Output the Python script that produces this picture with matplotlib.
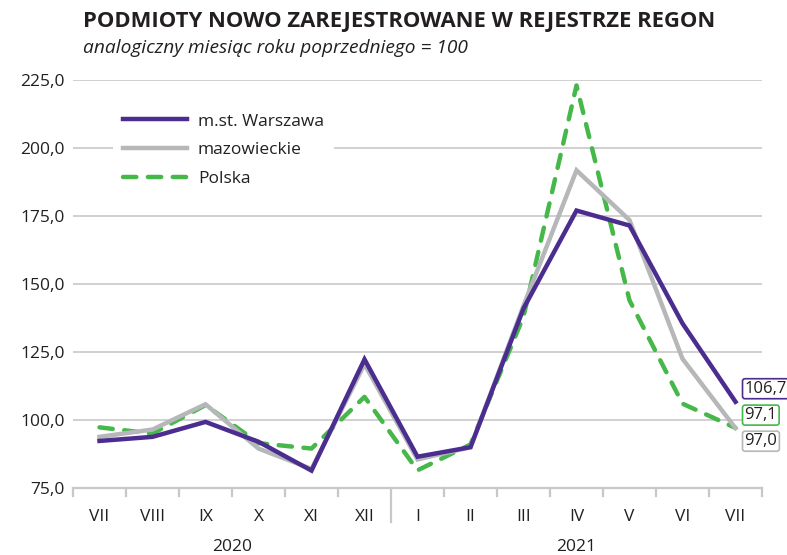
import matplotlib
matplotlib.use("Agg")
import matplotlib.pyplot as plt

plt.rcParams['font.family'] = ['Open Sans', 'DejaVu Sans']

months = ["VII", "VIII", "IX", "X", "XI", "XII", "I", "II", "III", "IV", "V", "VI", "VII"]
years = ["2020", "2021"]
year_groups = [(0, 5), (6, 12)]

warszawa = [92.3, 93.8, 99.3, 92.0, 81.4, 122.3, 86.5, 90.0, 141.0, 177.0, 171.5, 135.5, 106.7]
mazowieckie = [93.8, 96.5, 105.8, 89.5, 82.0, 120.5, 85.5, 90.0, 142.0, 191.8, 173.5, 122.5, 97.0]
polska = [97.3, 95.0, 105.5, 91.5, 89.5, 108.5, 81.5, 91.0, 138.0, 223.0, 144.0, 106.0, 97.1]

series_names = ["m.st. Warszawa", "mazowieckie", "Polska"]
end_labels = ["106,7", "97,1", "97,0"]
yticks = [75, 100, 125, 150, 175, 200, 225]

c_purple = "#4B2C8F"
c_gray = "#B5B7B9"
c_green = "#46B749"
grid_c = "#C8C8CA"
txt_c = "#231F20"
fs = 12.5

fig = plt.figure(figsize=(7.87, 5.55), dpi=100)
ax = fig.add_axes([73/787, 1-488/555, 689/787, 408/555])

x = list(range(len(months)))
lw = 3.2
l1, = ax.plot(x, warszawa, color=c_purple, lw=lw, zorder=5, solid_joinstyle='miter')
l2, = ax.plot(x, mazowieckie, color=c_gray, lw=lw, zorder=4, solid_joinstyle='miter')
l3, = ax.plot(x, polska, color=c_green, lw=lw, zorder=3, dashes=(3.0, 2.6), dash_capstyle='round')

ax.set_xlim(-0.5, 12.5)
ax.set_ylim(75, 225)
ax.set_yticks(yticks)
ax.set_yticklabels([f"{v:.1f}".replace(".", ",") for v in yticks], fontsize=fs, color=txt_c)
for v in yticks[1:]:
    ax.axhline(v, color=grid_c, lw=1.2, zorder=1)
ax.tick_params(axis='y', length=0, pad=6)

for s in ["top", "right", "left"]:
    ax.spines[s].set_visible(False)
ax.spines["bottom"].set_color(grid_c)
ax.spines["bottom"].set_linewidth(1.6)

ax.set_xticks(x)
ax.set_xticklabels(months, fontsize=fs, color=txt_c)
ax.tick_params(axis='x', length=0, pad=15)

# boundary ticks
trans = ax.get_xaxis_transform()
for b in range(14):
    xb = b - 0.5
    depth = 34/408 if b == 6 else 8/408
    ax.plot([xb, xb], [0, -depth], transform=trans, color=grid_c, lw=1.6, clip_on=False)

for yr, (a, b) in zip(years, year_groups):
    ax.text((a + b) / 2, -59/408, yr, transform=trans, ha='center', va='center',
            fontsize=fs, color=txt_c)

# end value labels
label_cols = [c_purple, c_green, c_gray]
label_y = [111.5, 101.8, 92.2]
for txt, col, yy in zip(end_labels, label_cols, label_y):
    ax.text(12.17, yy, txt, ha='left', va='center', fontsize=12, color=txt_c,
            bbox=dict(boxstyle='round,pad=0.12,rounding_size=0.15', fc='white', ec=col, lw=1.2),
            clip_on=False, zorder=10)

leg = ax.legend([l1, l2, l3], series_names, loc='upper left', bbox_to_anchor=(0.045, 0.965),
                fontsize=fs, handlelength=3.7, labelspacing=0.72, frameon=True,
                facecolor='white', edgecolor='none', framealpha=1, borderpad=0.6,
                handletextpad=0.6)
leg.set_zorder(6)
for t in leg.get_texts():
    t.set_color(txt_c)

fig.text(83/787, 1-22/555, "PODMIOTY NOWO ZAREJESTROWANE W REJESTRZE REGON", fontsize=15.8,
         fontweight='bold', ha='left', va='center', color=txt_c)
fig.text(83/787, 1-48/555, "analogiczny miesiąc roku poprzedniego = 100", fontsize=13.8,
         style='italic', ha='left', va='center', color=txt_c)

fig.savefig("out.png", dpi=100)
